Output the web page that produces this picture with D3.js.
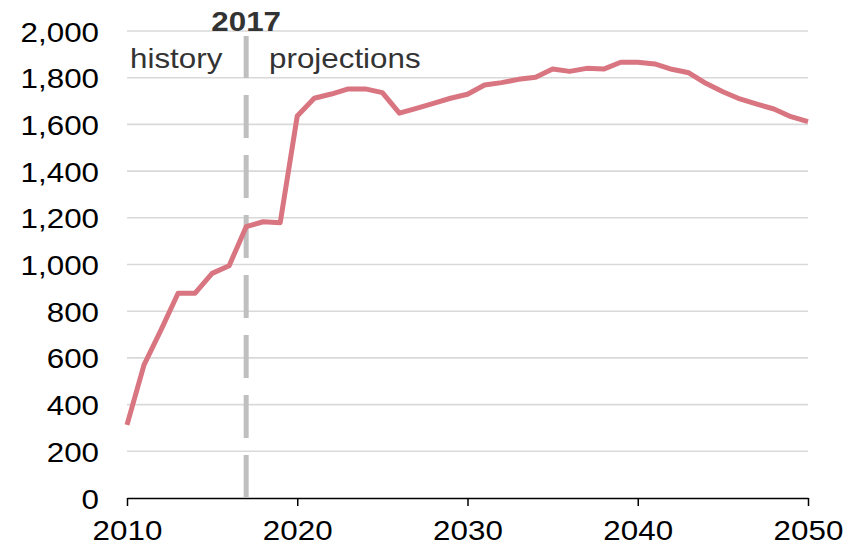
<!DOCTYPE html>
<html>
<head>
<meta charset="utf-8">
<script src="https://cdn.jsdelivr.net/npm/d3@7/dist/d3.min.js"></script>
<style>
  html, body { margin: 0; padding: 0; background: #fff; }
  svg { display: block; font-family: "Liberation Sans", Arial, sans-serif; }
</style>
</head>
<body>
<svg id="chart" width="854" height="547"></svg>
<script>
// Annual values, 2010–2050
const years = d3.range(2010, 2051);
const values = [
  313, 570, 720, 877, 877, 962, 995, 1162, 1183, 1179,
  1636, 1712, 1730, 1752, 1752, 1736, 1648, 1669, 1690, 1712,
  1729, 1769, 1779, 1793, 1802, 1837, 1827, 1840, 1837, 1866,
  1866, 1859, 1836, 1821, 1776, 1740, 1709, 1687, 1666, 1633,
  1612
];
const xTicks = [2010, 2020, 2030, 2040, 2050];
const yTicks = [0, 200, 400, 600, 800, 1000, 1200, 1400, 1600, 1800, 2000];
const splitYear = 2017;
const splitLabel = "2017";
const leftLabel = "history";
const rightLabel = "projections";

const svg = d3.select("#chart");
const margin = { left: 127, right: 46, top: 31, bottom: 49 };
const W = 854, H = 547;
const stretch = 1.12; // text is set slightly wide

const x = d3.scaleLinear().domain([2010, 2050]).range([margin.left, W - margin.right]);
const y = d3.scaleLinear().domain([0, 2000]).range([H - margin.bottom, margin.top]);

// horizontal gridlines
svg.append("g")
  .selectAll("line")
  .data(yTicks.filter(d => d > 0))
  .join("line")
  .attr("x1", x(2010)).attr("x2", x(2050))
  .attr("y1", d => y(d)).attr("y2", d => y(d))
  .attr("stroke", "#d9d9d9")
  .attr("stroke-width", 1.6);

// y axis labels
const yAxis = svg.append("g")
  .attr("transform", `translate(${x(2010)},0)`)
  .call(d3.axisLeft(y).tickValues(yTicks).tickSize(0).tickPadding(28).tickFormat(d3.format(",")));
yAxis.select(".domain").remove();
yAxis.selectAll("text")
  .attr("font-size", 28)
  .attr("font-family", "Liberation Sans, Arial, sans-serif")
  .attr("fill", "#000")
  .attr("dy", "0.36em")
  .attr("transform", `scale(${stretch},1)`)
  .attr("x", -28 / stretch);

// x axis
const xAxis = svg.append("g")
  .attr("transform", `translate(0,${y(0)})`)
  .call(d3.axisBottom(x).tickValues(xTicks).tickSize(8).tickPadding(0).tickSizeOuter(0).tickFormat(d3.format("d")));
xAxis.select(".domain").attr("stroke", "#000").attr("stroke-width", 1.5);
xAxis.selectAll(".tick line").attr("stroke", "#000").attr("stroke-width", 1.5);
xAxis.selectAll("text")
  .attr("font-size", 28)
  .attr("font-family", "Liberation Sans, Arial, sans-serif")
  .attr("fill", "#000")
  .attr("y", 42)
  .attr("dy", 0)
  .attr("transform", `scale(${stretch},1)`);

// dashed divider between history and projections
svg.append("line")
  .attr("x1", x(splitYear)).attr("x2", x(splitYear))
  .attr("y1", y(0)).attr("y2", 36)
  .attr("stroke", "#bfbfbf")
  .attr("stroke-width", 5)
  .attr("stroke-dasharray", "43,17");

// annotations
function stretchedText(tx, ty, txt, anchor, weight, fill) {
  svg.append("text")
    .attr("transform", `translate(${tx},${ty}) scale(${stretch},1)`)
    .attr("text-anchor", anchor)
    .attr("font-size", 28)
    .attr("font-weight", weight)
    .attr("fill", fill)
    .text(txt);
}
stretchedText(x(splitYear), 30.5, splitLabel, "middle", "bold", "#333");
stretchedText(130, 68, leftLabel, "start", "normal", "#333");
stretchedText(269, 68, rightLabel, "start", "normal", "#333");

// data line
const line = d3.line().x((d, i) => x(years[i])).y(d => y(d));
svg.append("path")
  .datum(values)
  .attr("fill", "none")
  .attr("stroke", "#d87580")
  .attr("stroke-width", 5)
  .attr("stroke-linejoin", "round")
  .attr("d", line);
</script>
</body>
</html>
